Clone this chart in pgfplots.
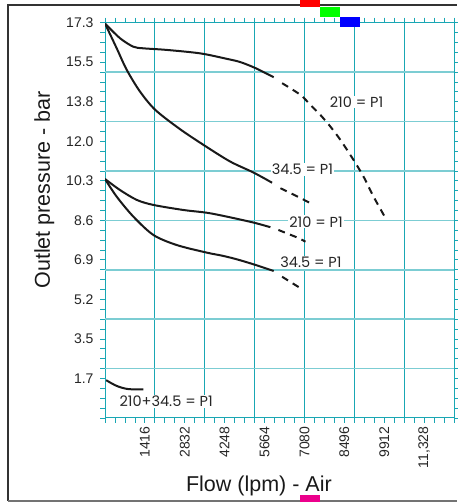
\documentclass[border=0pt]{standalone}
\usepackage{pgfplots}
\pgfplotsset{compat=1.18}
\usepackage{fontspec}
\setmainfont{Liberation Sans}
\newfontfamily\annfont{Poppins}
\definecolor{gridv}{HTML}{19A7B4}
\definecolor{gridh}{HTML}{7CCDD3}
\definecolor{framec}{HTML}{333333}

\begin{document}
\begin{tikzpicture}[x=1pt,y=1pt,
  ann/.style={fill=white, inner sep=1pt, text=black!85,
    font=\annfont\fontsize{14.5}{16}\selectfont}]
\path[use as bounding box] (0,0) rectangle (457,502);
\begin{axis}[
  at={(105pt,84pt)}, anchor=south west,
  scale only axis, width=349pt, height=395.3pt,
  xmin=0, xmax=12390, ymin=0, ymax=17.2376,
  axis line style={gridv, line width=1pt},
  tick align=outside,
  major tick length=5pt, minor tick length=5pt,
  every tick/.style={gridv, line width=0.8pt},
  scaled x ticks=false,
  xtick={1416,2832,4248,5664,7080,8496,9912,11328},
  xticklabels={1416,2832,4248,5664,7080,8496,9912,{11,328}},
  minor xtick={0,354,...,12390},
  ytick={1.7238,3.4475,5.1713,6.8950,8.6188,10.3426,12.0663,13.7901,15.5138,17.2376},
  yticklabels={1.7,3.5,5.2,6.9,8.6,10.3,12.0,13.8,15.5,17.3},
  minor ytick={0,0.43094,...,17.3},
  extra x ticks={1770,3540,5310,7080,8850,10620},
  extra x tick labels={},
  extra x tick style={grid=major, major tick length=0pt,
    major grid style={gridv, line width=1pt}},
  extra y ticks={2.1547,4.3094,6.4641,8.6188,10.7735,12.9282,15.0829},
  extra y tick labels={},
  extra y tick style={grid=major, major tick length=0pt,
    major grid style={gridh, line width=1.6pt}},
  /pgf/number format/assume math mode=true,
  ticklabel style={font=\fontsize{14}{16}\selectfont, text=black!85},
  xticklabel style={rotate=90, anchor=east},
  yticklabel style={anchor=east, xshift=-3pt},
  xlabel={Flow (lpm) - Air},
  ylabel={Outlet pressure - bar},
  label style={font=\fontsize{21.5}{24}\selectfont, text=black!90},
  xlabel style={at={(axis description cs:0.441,0)}, anchor=base, yshift=-74pt},
  ylabel style={at={(axis description cs:-0.1576,0.577)}, anchor=base},
  every axis plot/.append style={black!90, line width=2pt, no marks},
]
\node[ann] at (axis cs:8930,13.78) {210 = P1};
\node[ann] at (axis cs:7009,10.84) {34.5 = P1};
\node[ann] at (axis cs:7490,8.56) {210 = P1};
\node[ann] at (axis cs:7312,6.78) {34.5 = P1};
\node[ann] at (axis cs:2170,0.72) {210+34.5 = P1};

% 210 = P1, upper
\addplot[smooth] coordinates {
  (0,17.2) (534,16.56) (1007,16.19) (1363,16.12) (2195,16.05) (3380,15.90)
  (4330,15.66) (4803,15.52) (5337,15.26) (5988,14.86)
};
\addplot[smooth, dash pattern=on 7pt off 5.5pt] coordinates {
  (6287,14.60) (6938,14.09) (7294,13.65) (7650,13.21) (8006,12.70)
  (8361,12.12) (8824,11.25) (9180,10.52) (9535,9.65) (9962,8.71)
};
% 34.5 = P1, upper
\addplot[smooth] coordinates {
  (0,17.2) (416,16.12) (772,15.18) (1245,14.23) (1790,13.43) (2669,12.59)
  (3558,11.86) (4448,11.18) (5277,10.70) (5931,10.26)
};
\addplot[dash pattern=on 7pt off 5.5pt] coordinates {
  (6227,10.02) (6796,9.68) (7354,9.33)
};
% 210 = P1, lower
\addplot[smooth] coordinates {
  (0,10.42) (534,9.94) (1128,9.51) (1719,9.29) (2786,9.07) (3618,8.95)
  (4330,8.78) (5277,8.52) (5871,8.32)
};
\addplot[dash pattern=on 7pt off 5.5pt] coordinates {
  (6155,8.20) (6867,7.85) (7116,7.69)
};
% 34.5 = P1, lower
\addplot[smooth] coordinates {
  (0,10.42) (416,9.65) (1007,8.78) (1719,7.98) (2551,7.54) (3618,7.21)
  (4150,7.08) (4650,6.93) (5277,6.70) (5988,6.41)
};
\addplot[dash pattern=on 7pt off 5.5pt] coordinates {
  (6287,6.16) (6938,5.66)
};
% 210 + 34.5 = P1
\addplot[smooth] coordinates {
  (40,1.65) (250,1.50) (473,1.37) (829,1.26) (1363,1.25)
};
\end{axis}
% frame around the chart
\draw[framec, line width=2.5pt] (8,1) -- (8,497);
\fill[framec] (6.75,495.75) rectangle (457,498.25);
\draw[black!55, line width=2pt] (8,1) -- (457,1);
% diagnostic strips
\fill[red] (300,495) rectangle (320,502);
\fill[green] (320,485) rectangle (340,495);
\fill[blue] (340,475) rectangle (360,485);
\fill[magenta] (300,0) rectangle (320,7);
\end{tikzpicture}
\end{document}
